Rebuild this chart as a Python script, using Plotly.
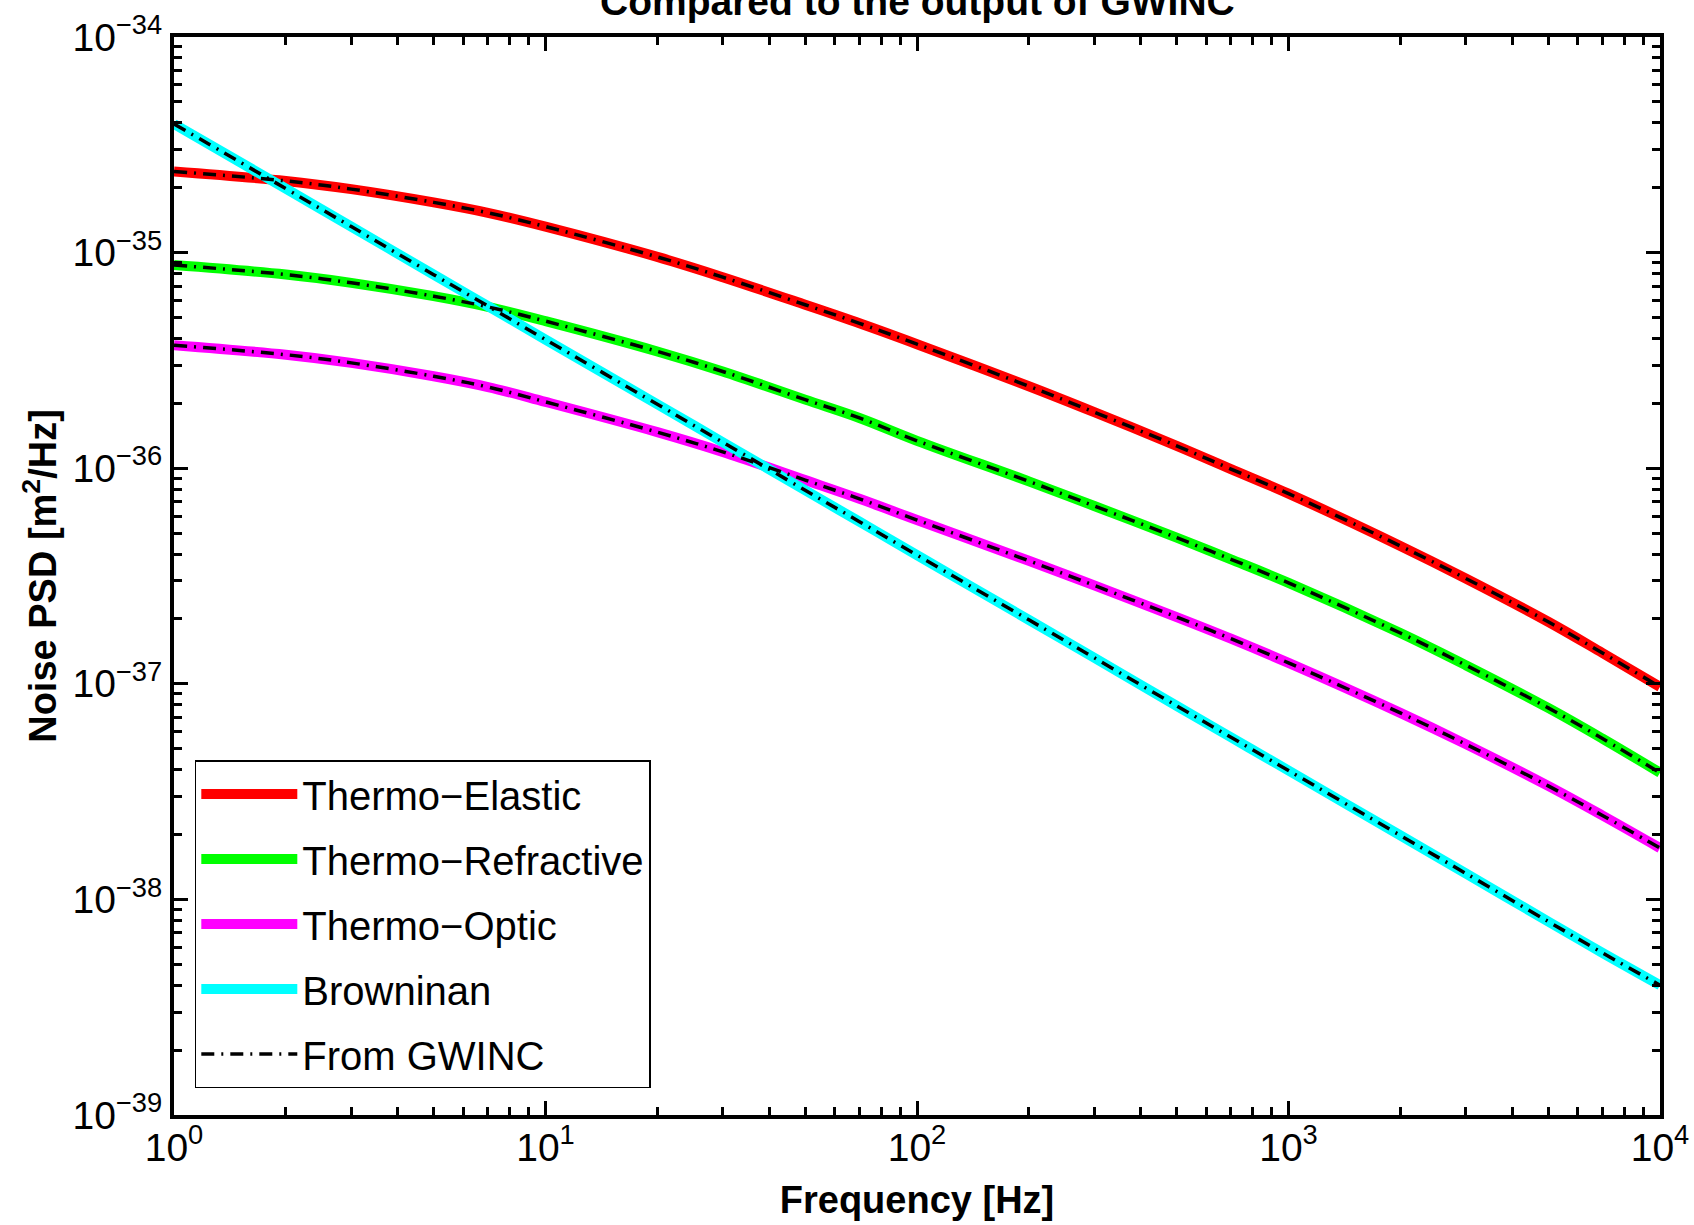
import plotly.graph_objects as go

# Frequency grid [Hz]
freq = [1, 2, 3, 5, 7, 10, 20, 30, 50, 70, 100, 200, 300, 500, 700,
        1000, 2000, 3000, 5000, 7000, 10000]

# Noise PSD values [m^2/Hz]
thermo_elastic = [2.38e-35, 2.15e-35, 1.97e-35, 1.71e-35, 1.53e-35, 1.32e-35,
                  9.55e-36, 7.69e-36, 5.73e-36, 4.70e-36, 3.76e-36, 2.40e-36,
                  1.82e-36, 1.27e-36, 9.91e-37, 7.62e-37, 4.36e-37, 3.08e-37,
                  1.94e-37, 1.39e-37, 9.68e-38]
thermo_refractive = [8.75e-36, 7.91e-36, 7.24e-36, 6.28e-36, 5.60e-36, 4.81e-36,
                     3.48e-36, 2.81e-36, 2.08e-36, 1.71e-36, 1.34e-36, 8.69e-37,
                     6.68e-37, 4.76e-37, 3.78e-37, 2.94e-37, 1.72e-37, 1.22e-37,
                     7.73e-38, 5.57e-38, 3.87e-38]
thermo_optic = [3.72e-36, 3.36e-36, 3.08e-36, 2.67e-36, 2.38e-36, 2.03e-36,
                1.47e-36, 1.19e-36, 8.81e-37, 7.21e-37, 5.75e-37, 3.72e-37,
                2.86e-37, 2.04e-37, 1.62e-37, 1.25e-37, 7.33e-38, 5.25e-38,
                3.36e-38, 2.45e-38, 1.73e-38]
brownian = [3.95e-35, 1.98e-35, 1.32e-35, 7.90e-36, 5.65e-36, 3.95e-36,
            1.98e-36, 1.32e-36, 7.90e-37, 5.65e-37, 3.95e-37, 1.98e-37,
            1.32e-37, 7.90e-38, 5.65e-38, 3.96e-38, 1.98e-38, 1.32e-38,
            7.90e-39, 5.65e-39, 4.00e-39]

# GWINC output (overlaps the computed curves)
gwinc_elastic = list(thermo_elastic)
gwinc_refractive = list(thermo_refractive)
gwinc_optic = list(thermo_optic)
gwinc_brownian = list(brownian)

series_names = ["Thermo\u2212Elastic", "Thermo\u2212Refractive", "Thermo\u2212Optic", "Browninan"]
series_colors = ["#ff0000", "#00ff00", "#ff00ff", "#00ffff"]

x_tickvals = [1, 10, 100, 1000, 10000]
x_ticktext = ["10<sup>0</sup>", "10<sup>1</sup>", "10<sup>2</sup>", "10<sup>3</sup>", "10<sup>4</sup>"]
y_tickvals = [1e-39, 1e-38, 1e-37, 1e-36, 1e-35, 1e-34]
y_ticktext = ["10<sup>\u221239</sup>", "10<sup>\u221238</sup>", "10<sup>\u221237</sup>",
              "10<sup>\u221236</sup>", "10<sup>\u221235</sup>", "10<sup>\u221234</sup>"]

FONT = "Liberation Sans, Arial, Helvetica, sans-serif"

fig = go.Figure()
model = [thermo_elastic, thermo_refractive, thermo_optic, brownian]
gwinc = [gwinc_elastic, gwinc_refractive, gwinc_optic, gwinc_brownian]

for i, (name, col, vals) in enumerate(zip(series_names, series_colors, model)):
    fig.add_trace(go.Scatter(x=freq, y=vals, mode="lines", name=name,
                             legendgroup="g%d" % i,
                             line=dict(color=col, width=10, shape="spline", smoothing=1.0)))

for i, vals in enumerate(gwinc):
    fig.add_trace(go.Scatter(x=freq, y=vals, mode="lines", name="From GWINC",
                             legendgroup="gw", showlegend=(i == 0),
                             line=dict(color="black", width=3.5, shape="spline", smoothing=1.0,
                                       dash="13px,7px,2px,7px")))

minor_x = [k * 10 ** n for n in range(0, 4) for k in range(2, 10)]
minor_y = [k * 10.0 ** n for n in range(-39, -34) for k in range(2, 10)]

axis_common = dict(
    type="log", showgrid=False, zeroline=False, automargin=False,
    showline=True, linecolor="black", linewidth=4, mirror="ticks",
    ticks="inside", ticklen=14, tickwidth=3, tickcolor="black",
    tickmode="array", ticklabeloverflow="allow",
    tickfont=dict(family=FONT, size=39, color="black"),
)

fig.update_xaxes(
    **axis_common,
    range=[0, 4],
    tickvals=x_tickvals, ticktext=x_ticktext, ticklabelstandoff=-5,
    minor=dict(tickmode="array", tickvals=minor_x, ticks="inside", ticklen=8,
               tickwidth=3, tickcolor="black", showgrid=False),
    title=dict(text="Frequency [Hz]", font=dict(family=FONT, size=38, color="black", weight="bold"),
               standoff=20),
)
fig.update_yaxes(
    **axis_common,
    range=[-39, -34],
    tickvals=y_tickvals, ticktext=y_ticktext,
    minor=dict(tickmode="array", tickvals=minor_y, ticks="inside", ticklen=8,
               tickwidth=3, tickcolor="black", showgrid=False),
    title=dict(text="Noise PSD [m<sup>2</sup>/Hz]", font=dict(family=FONT, size=38, color="black", weight="bold"),
               standoff=5),
)

fig.add_annotation(text="<b>Compared to the output of GWINC</b>", xref="paper", yref="paper",
                   x=0.5, y=1.033, xanchor="center", yanchor="middle", showarrow=False,
                   font=dict(family=FONT, size=39, color="black"))

fig.update_layout(
    width=1694, height=1225,
    margin=dict(l=174, r=34, t=37, b=110),
    paper_bgcolor="white", plot_bgcolor="white",
    legend=dict(x=0.014, y=0.025, xanchor="left", yanchor="bottom",
                bgcolor="white", bordercolor="black", borderwidth=1.5,
                font=dict(family=FONT, size=40, color="black"),
                itemwidth=96,
                tracegroupgap=10, traceorder="grouped"),
    showlegend=True,
)

fig.write_html("out.html", config={"displayModeBar": False},
               post_script="document.body.style.margin='0px';")
